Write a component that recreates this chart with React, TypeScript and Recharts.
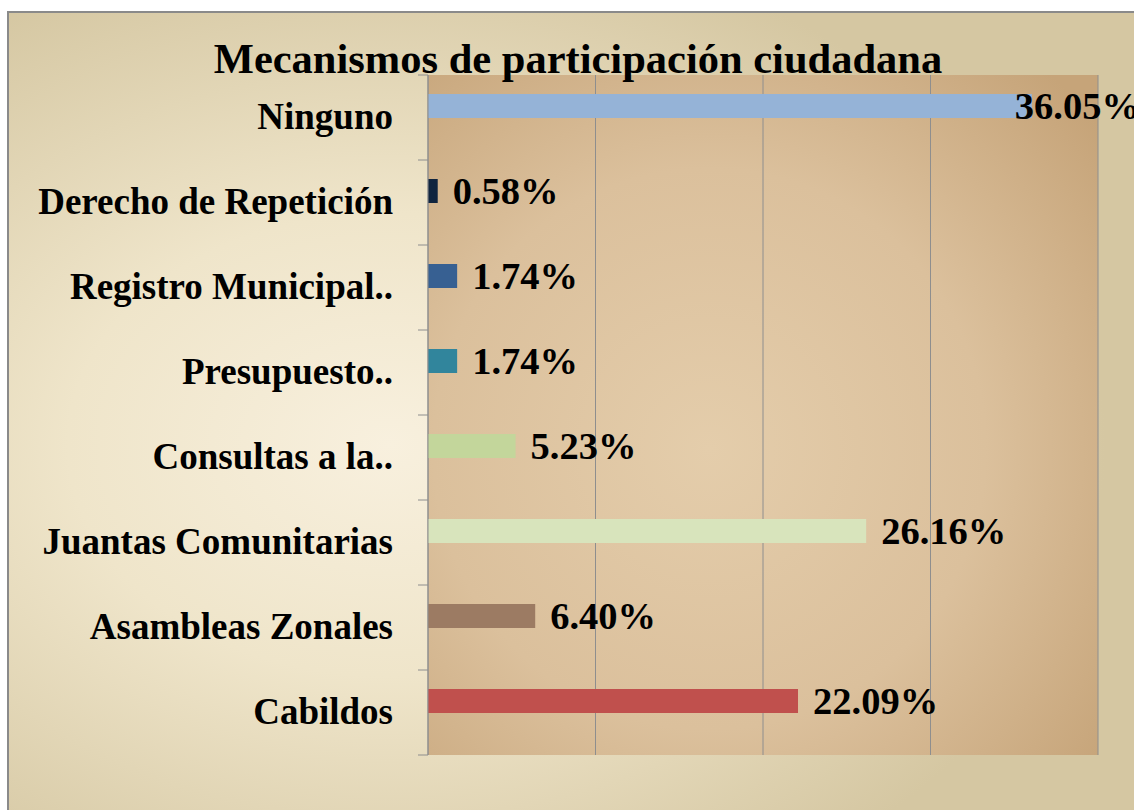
import { BarChart, Bar, XAxis, YAxis, CartesianGrid, Cell, LabelList } from "recharts";

const categorias = [
  "Ninguno",
  "Derecho de Repetición",
  "Registro Municipal..",
  "Presupuesto..",
  "Consultas a la..",
  "Juantas Comunitarias",
  "Asambleas Zonales",
  "Cabildos",
];
const porcentajes = [36.05, 0.58, 1.74, 1.74, 5.23, 26.16, 6.4, 22.09];
const colores = ["#95b3d7", "#10243e", "#376092", "#31859c", "#c3d69b", "#d8e4bc", "#9c7b63", "#c0504d"];
const ticksX = [0, 10, 20, 30, 40];

const ANCHO = 1134;
const ALTO = 810;
const MARGEN = { top: 75, right: 36, bottom: 55, left: 0 };
const BANDA = (ALTO - MARGEN.top - MARGEN.bottom) / categorias.length;
const FUENTE = '"Liberation Serif", "Times New Roman", serif';
const GRIS = "#8e8e8e";

// Excel deja un hueco vacío debajo de cada barra: serie fantasma en cero
const datos = categorias.map((nombre, i) => ({ nombre, valor: porcentajes[i], hueco: 0 }));

function TickCategoria(props: any) {
  const { x, y, payload, index } = props;
  const mitad = BANDA / 2;
  return (
    <g>
      <text x={x} y={y} dy={11} textAnchor="end" fontFamily={FUENTE} fontWeight="bold" fontSize={37} fill="#000">
        {payload.value}
      </text>
      <line x1={x + 25} x2={x + 35} y1={y + mitad} y2={y + mitad} stroke={GRIS} />
      {index === 0 && <line x1={x + 25} x2={x + 35} y1={y - mitad} y2={y - mitad} stroke={GRIS} />}
    </g>
  );
}

function EtiquetaValor(props: any) {
  const { x, y, width, height, value } = props;
  const fin = x + width;
  // si no cabe a la derecha, se mete sobre la barra
  const tx = fin + 15 + 120 > ANCHO ? fin - 17 : fin + 15;
  return (
    <text x={tx} y={y + height / 2} dy={13} fontFamily={FUENTE} fontWeight="bold" fontSize={38.5} fill="#000">
      {Number(value).toFixed(2)}%
    </text>
  );
}

export default function App() {
  return (
    <div style={{ position: "absolute", left: 0, top: 0, width: ANCHO, height: ALTO, overflow: "hidden", background: "#fff" }}>
      <div
        style={{
          position: "absolute",
          left: 7,
          top: 11,
          width: ANCHO + 20,
          height: ALTO + 20,
          borderTop: "2px solid #8a8a8a",
          borderLeft: "2px solid #8a8a8a",
          background: "radial-gradient(ellipse 62% 62% at 33% 52%, #f8f0de 0%, #efe5ca 45%, #d5c7a2 100%)",
        }}
      />
      <div style={{ position: "absolute", left: 0, top: 0 }}>
        <BarChart width={ANCHO} height={ALTO} data={datos} layout="vertical" margin={MARGEN} barGap={0}>
          <defs>
            <radialGradient id="fondoPlot" cx="42%" cy="55%" r="75%">
              <stop offset="0%" stopColor="#e4cdab" />
              <stop offset="55%" stopColor="#dbc09c" />
              <stop offset="100%" stopColor="#c6a479" />
            </radialGradient>
          </defs>
          <CartesianGrid horizontal={false} stroke={GRIS} fill="url(#fondoPlot)" fillOpacity={1} />
          <XAxis type="number" domain={[0, 40]} ticks={ticksX} hide />
          <YAxis
            type="category"
            dataKey="nombre"
            width={428}
            tickSize={10}
            tickMargin={25}
            tickLine={false}
            axisLine={{ stroke: GRIS }}
            tick={<TickCategoria />}
            interval={0}
          />
          <Bar dataKey="valor" barSize={24} isAnimationActive={false}>
            {datos.map((d, i) => (
              <Cell key={d.nombre} fill={colores[i]} />
            ))}
            <LabelList dataKey="valor" content={<EtiquetaValor />} />
          </Bar>
          <Bar dataKey="hueco" barSize={24} fill="none" isAnimationActive={false} />
        </BarChart>
      </div>
      <svg width={ANCHO} height={ALTO} style={{ position: "absolute", left: 0, top: 0, pointerEvents: "none" }}>
        <text x={578} y={73} textAnchor="middle" fontFamily={FUENTE} fontWeight="bold" fontSize={42.5} fill="#000">
          Mecanismos de participación ciudadana
        </text>
      </svg>
    </div>
  );
}
